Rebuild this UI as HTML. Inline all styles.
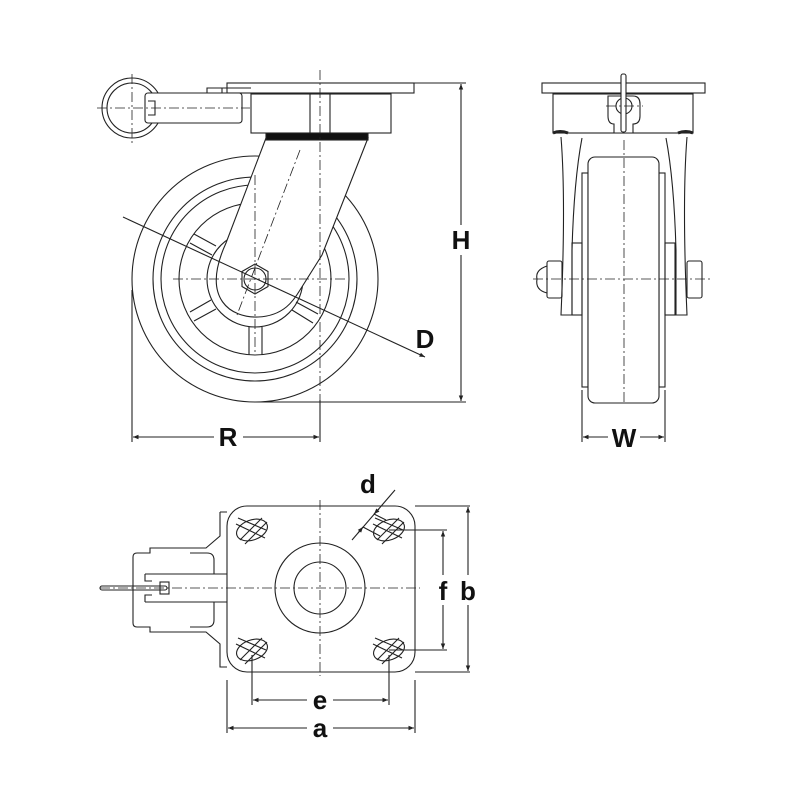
<!DOCTYPE html>
<html><head><style>html,body{margin:0;padding:0;background:#fff}svg{display:block}
text{font-family:"Liberation Sans",sans-serif;font-weight:bold;fill:#111}</style></head><body>
<svg width="800" height="800" viewBox="0 0 800 800" xmlns="http://www.w3.org/2000/svg">
<defs>
<marker id="ar" viewBox="0 0 10 10" refX="10" refY="5" markerWidth="7" markerHeight="5" orient="auto-start-reverse"><path d="M0,1 L10,5 L0,9 Z" fill="#222"/></marker>
</defs>
<g fill="none" stroke="#222" stroke-width="1.1">
<!-- SIDE VIEW -->
<circle cx="255" cy="279" r="123"/>
<circle cx="255" cy="279" r="102"/>
<circle cx="255" cy="279" r="94"/>
<circle cx="255" cy="279" r="76"/>
<circle cx="255" cy="279" r="48"/>
<path d="M249,327 V355 M262,327 V355"/>
<path d="M211,300 L190,312 M216,309 L194,321"/>
<path d="M296,302 L318,314 M292,310 L313,323"/>
<path d="M212,255 L190,243 M216,246 L194,234"/>
<path d="M266,138 L226,243 C200,300 232,318 258,317 C284,316 294,300 300,290 L322,255 L368,138 Z" fill="#fff"/>
<rect x="266" y="133" width="102" height="7" fill="#111"/>
<polygon points="255,264 268,271.5 268,286.5 255,294 242,286.5 242,271.5" fill="#fff"/>
<circle cx="255" cy="279" r="11"/>
<rect x="227" y="83" width="187" height="10" fill="#fff"/>
<rect x="251" y="94" width="140" height="39" fill="#fff"/>
<path d="M310,94 V133 M330,94 V133"/>
<circle cx="132" cy="108" r="30"/>
<circle cx="132" cy="108" r="25"/>
<rect x="145" y="93" width="97" height="30" rx="3" fill="#fff"/>
<path d="M207,93 V88 H222 V93 M222,88 H251"/>
<path d="M148,101 H155 V115 H148"/>
<g stroke-dasharray="10,3,2,3" stroke-width="0.8">
<path d="M255,175 V355 M173,279 H345 M320,70 V435 M132,74 V146 M97,108 H250 M300,150 L237,315"/>
</g>
<path d="M123,217 L425,357" marker-end="url(#ar)"/>
<path d="M414,83 H466 M255,402 H466"/>
<path d="M461,225 V84" marker-end="url(#ar)"/>
<path d="M461,255 V401" marker-end="url(#ar)"/>
<path d="M132,290 V442 M320,400 V442"/>
<path d="M214,437 H133" marker-end="url(#ar)"/>
<path d="M243,437 H319" marker-end="url(#ar)"/>
<!-- FRONT VIEW -->
<rect x="542" y="83" width="163" height="10" fill="#fff"/>
<rect x="553" y="94" width="140" height="39" fill="#fff"/>
<path d="M553,133 Q560,130 568,133 M678,133 Q686,130 693,133" stroke-width="3"/>
<path d="M561,137 Q566,200 561,315 H572 V250 Q574,180 582,138 M687,137 Q682,200 687,315 H676 V250 Q674,180 666,138"/>
<rect x="582" y="173" width="6" height="214"/>
<rect x="659" y="173" width="6" height="214"/>
<rect x="588" y="157" width="71" height="246" rx="7" fill="#fff"/>
<rect x="572" y="243" width="10" height="72"/>
<rect x="665" y="243" width="10" height="72"/>
<rect x="547" y="261" width="15" height="37" rx="2"/>
<rect x="687" y="261" width="15" height="37" rx="2"/>
<path d="M547,266 Q535,270 537,279 Q535,290 547,293"/>
<path d="M608,96 H633 Q640,96 640,104 V116 Q640,124 633,124 V133 H614 V124 Q608,124 608,116 Z" fill="#fff"/>
<circle cx="624" cy="106" r="8"/>
<rect x="621" y="74" width="5" height="58" rx="2" fill="#fff"/>
<g stroke-dasharray="10,3,2,3" stroke-width="0.8"><path d="M624,140 V405 M533,279 H712 M606,106 H643"/></g>
<path d="M582,390 V442 M665,390 V442"/>
<path d="M608,437 H583" marker-end="url(#ar)"/>
<path d="M640,437 H664" marker-end="url(#ar)"/>
<!-- TOP VIEW -->
<path d="M220,512 H227 M220,512 V536 L206,548 H150 V553 H137 Q133,553 133,557 V623 Q133,627 137,627 H150 V632 H206 L220,644 V667 H227"/>
<path d="M190,553 H207 Q214,553 214,560 V574 M190,627 H207 Q214,627 214,620 V602"/>
<path d="M145,574 H227 M145,602 H227 M145,574 V581 H152 M145,602 V595 H152"/>
<rect x="100" y="586" width="67" height="4" rx="2"/>
<rect x="160" y="582" width="9" height="12"/>
<rect x="227" y="506" width="188" height="166" rx="20" fill="#fff"/>
<circle cx="320" cy="588" r="45"/>
<circle cx="320" cy="588" r="26"/>
<ellipse cx="252" cy="530" rx="16" ry="10" transform="rotate(-20 252 530)"/>
<ellipse cx="389" cy="530" rx="16" ry="10" transform="rotate(-20 389 530)"/>
<ellipse cx="252" cy="650" rx="16" ry="10" transform="rotate(-20 252 650)"/>
<ellipse cx="389" cy="650" rx="16" ry="10" transform="rotate(-20 389 650)"/>
<path d="M240,540 L262,518 M245,544 L267,522 M236,524 L265,538 M238,518 L266,530 M240,660 L262,638 M245,664 L267,642 M236,644 L265,658 M238,638 L266,650 M377,540 L399,518 M382,544 L404,522 M373,524 L402,538 M375,518 L403,530 M377,660 L399,638 M382,664 L404,642 M373,644 L402,658 M375,638 L403,650"/>
<g stroke-dasharray="10,3,2,3" stroke-width="0.8"><path d="M320,500 V676 M100,588 H420"/></g>
<path d="M395,490 L352,540"/>
<path d="M379,509 L374,514" marker-end="url(#ar)"/>
<path d="M358,533 L363,527" marker-end="url(#ar)"/>
<path d="M374,514 L386,520 M363,527 L380,536"/>
<path d="M415,506 H470 M415,672 H470 M389,530 H447 M389,650 H447"/>
<path d="M468,575 V507" marker-end="url(#ar)"/>
<path d="M468,605 V671" marker-end="url(#ar)"/>
<path d="M443,575 V531" marker-end="url(#ar)"/>
<path d="M443,605 V649" marker-end="url(#ar)"/>
<path d="M252,655 V705 M389,655 V705 M227,680 V733 M415,680 V733"/>
<path d="M307,700 H253" marker-end="url(#ar)"/>
<path d="M333,700 H388" marker-end="url(#ar)"/>
<path d="M307,728 H228" marker-end="url(#ar)"/>
<path d="M333,728 H414" marker-end="url(#ar)"/>
</g>
<g font-size="26">
<text x="461" y="249" text-anchor="middle">H</text>
<text x="425" y="348" text-anchor="middle">D</text>
<text x="228" y="446" text-anchor="middle">R</text>
<text x="624" y="447" text-anchor="middle">W</text>
<text x="368" y="493" text-anchor="middle">d</text>
<text x="443" y="600" text-anchor="middle">f</text>
<text x="468" y="600" text-anchor="middle">b</text>
<text x="320" y="709" text-anchor="middle">e</text>
<text x="320" y="737" text-anchor="middle">a</text>
</g>
</svg>
</body></html>
